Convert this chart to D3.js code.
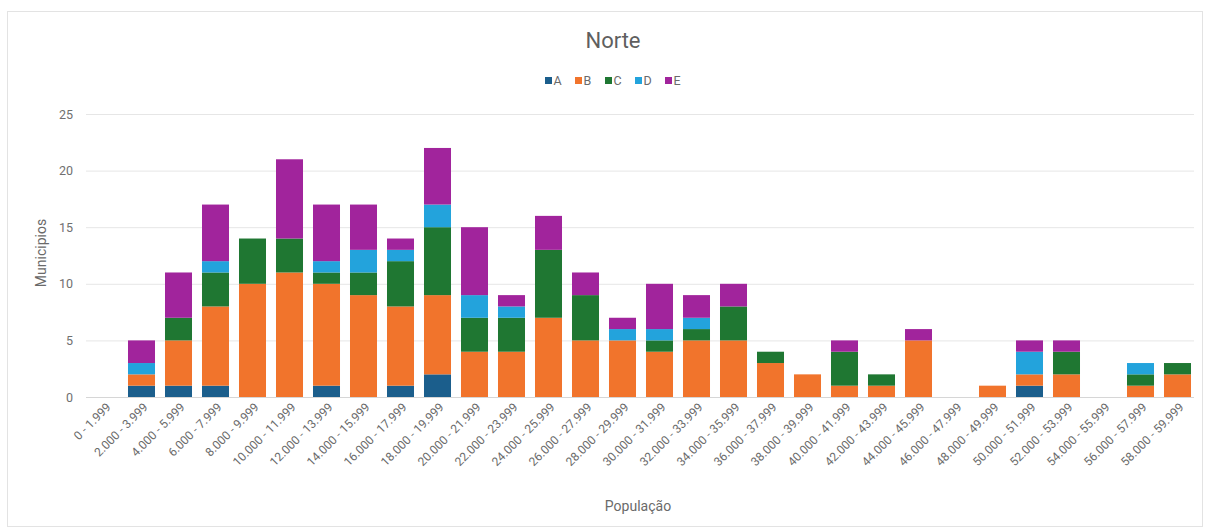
<!DOCTYPE html>
<html>
<head>
<meta charset="utf-8">
<script src="https://cdn.jsdelivr.net/npm/d3@7"></script>
<style>
  html, body { margin: 0; padding: 0; background: #fff; }
  svg { display: block; font-family: Roboto, "Liberation Sans", Arial, sans-serif; }
</style>
</head>
<body>
<svg id="chart" width="1206" height="530"></svg>
<script>
// Population ranges (x axis)
const categories = [
  "0 - 1.999", "2.000 - 3.999", "4.000 - 5.999", "6.000 - 7.999", "8.000 - 9.999",
  "10.000 - 11.999", "12.000 - 13.999", "14.000 - 15.999", "16.000 - 17.999", "18.000 - 19.999",
  "20.000 - 21.999", "22.000 - 23.999", "24.000 - 25.999", "26.000 - 27.999", "28.000 - 29.999",
  "30.000 - 31.999", "32.000 - 33.999", "34.000 - 35.999", "36.000 - 37.999", "38.000 - 39.999",
  "40.000 - 41.999", "42.000 - 43.999", "44.000 - 45.999", "46.000 - 47.999", "48.000 - 49.999",
  "50.000 - 51.999", "52.000 - 53.999", "54.000 - 55.999", "56.000 - 57.999", "58.000 - 59.999"
];

// Number of municipalities per class
const seriesA = [0,1,1,1,0, 0,1,0,1,2, 0,0,0,0,0, 0,0,0,0,0, 0,0,0,0,0, 1,0,0,0,0];
const seriesB = [0,1,4,7,10, 11,9,9,7,7, 4,4,7,5,5, 4,5,5,3,2, 1,1,5,0,1, 1,2,0,1,2];
const seriesC = [0,0,2,3,4, 3,1,2,4,6, 3,3,6,4,0, 1,1,3,1,0, 3,1,0,0,0, 0,2,0,1,1];
const seriesD = [0,1,0,1,0, 0,1,2,1,2, 2,1,0,0,1, 1,1,0,0,0, 0,0,0,0,0, 2,0,0,1,0];
const seriesE = [0,2,4,5,0, 7,5,4,1,5, 6,1,3,2,1, 4,2,2,0,0, 1,0,1,0,0, 1,1,0,0,0];

const seriesNames = ["A", "B", "C", "D", "E"];
const seriesColors = ["#1b5e8c", "#f1742c", "#1f7732", "#23a3dc", "#a1249c"];
const yTicks = [0, 5, 10, 15, 20, 25];

const rows = categories.map((c, i) => ({
  cat: c, A: seriesA[i], B: seriesB[i], C: seriesC[i], D: seriesD[i], E: seriesE[i]
}));

const svg = d3.select("#chart");
const textColor = "#6a6a6a";

// outer frame
svg.append("rect")
  .attr("x", 7.5).attr("y", 11.5).attr("width", 1195).attr("height", 515)
  .attr("fill", "#fff").attr("stroke", "#e3e3e3");

const plot = { left: 86, right: 1196, top: 114, bottom: 397 };

const x = d3.scaleBand().domain(categories).range([plot.left, plot.right]).paddingInner(0.27).paddingOuter(0.135);
const y = d3.scaleLinear().domain([0, 25]).range([plot.bottom, plot.top]);

// gridlines
svg.append("g")
  .selectAll("line")
  .data(yTicks)
  .join("line")
  .attr("x1", plot.left).attr("x2", plot.right - 2)
  .attr("y1", d => y(d) + 0.5).attr("y2", d => y(d) + 0.5)
  .attr("stroke", d => d === 0 ? "#d6d6d6" : "#e6e6e6")
  .attr("stroke-width", 1);

// y axis labels
const yAxis = d3.axisLeft(y).tickValues(yTicks).tickSize(0).tickPadding(0);
const gy = svg.append("g").attr("transform", `translate(${plot.left - 13},0)`).call(yAxis);
gy.select(".domain").remove();
gy.selectAll("text").attr("fill", "#707070").attr("font-size", 12.5).attr("font-family", "Roboto, sans-serif");

// stacked bars
const stack = d3.stack().keys(seriesNames)(rows);
svg.append("g")
  .selectAll("g")
  .data(stack)
  .join("g")
  .attr("fill", (d, i) => seriesColors[i])
  .selectAll("rect")
  .data(d => d)
  .join("rect")
  .attr("x", d => x(d.data.cat))
  .attr("width", x.bandwidth())
  .attr("y", d => y(d[1]))
  .attr("height", d => y(d[0]) - y(d[1]));

// x axis labels (rotated)
const xAxis = d3.axisBottom(x).tickSize(0).tickPadding(0);
const gx = svg.append("g").attr("transform", `translate(0,${plot.bottom})`).call(xAxis);
gx.select(".domain").remove();
gx.selectAll("text")
  .attr("fill", textColor)
  .attr("font-size", 12)
  .attr("font-family", "Roboto, sans-serif")
  .attr("text-anchor", "end")
  .attr("dy", 0)
  .attr("transform", "translate(7,11) rotate(-45)");

// title
svg.append("text")
  .attr("x", 613).attr("y", 48)
  .attr("text-anchor", "middle")
  .attr("font-size", 22)
  .attr("font-family", "Roboto, sans-serif")
  .attr("fill", "#5f5f5f")
  .text("Norte");

// legend
const legend = svg.append("g").attr("transform", "translate(545,81)");
const item = legend.selectAll("g").data(seriesNames).join("g")
  .attr("transform", (d, i) => `translate(${i * 30},0)`);
item.append("rect").attr("x", 0).attr("y", -4).attr("width", 7).attr("height", 7)
  .attr("fill", (d, i) => seriesColors[i]);
item.append("text").attr("x", 8.5).attr("y", 4)
  .attr("font-size", 12.5).attr("font-family", "Roboto, sans-serif")
  .attr("fill", textColor).text(d => d);

// axis titles
svg.append("text")
  .attr("transform", "translate(46,253) rotate(-90)")
  .attr("text-anchor", "middle")
  .attr("font-size", 14)
  .attr("font-family", "Roboto, sans-serif")
  .attr("fill", textColor)
  .text("Municipios");

svg.append("text")
  .attr("x", 638).attr("y", 511)
  .attr("text-anchor", "middle")
  .attr("font-size", 14)
  .attr("font-family", "Roboto, sans-serif")
  .attr("fill", textColor)
  .text("População");
</script>
</body>
</html>
